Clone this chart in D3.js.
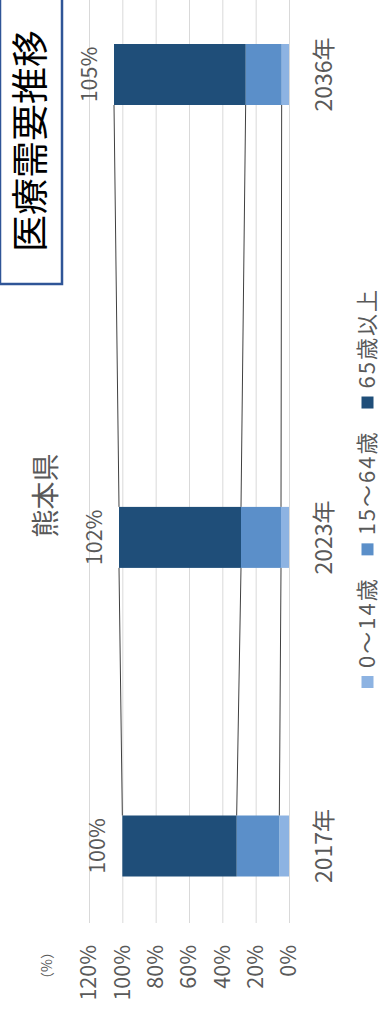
<!DOCTYPE html>
<html>
<head>
<meta charset="utf-8">
<script src="https://cdn.jsdelivr.net/npm/d3@7"></script>
<style>
  body { margin: 0; background: #fff; }
  svg text { font-family: "Noto Sans CJK JP", "Noto Sans", sans-serif; }
</style>
</head>
<body>
<div id="chart-area"></div>
<script>
// chart is drawn in normal orientation and then turned -90deg to fit the page
var W = 1011, H = 380;

var years = ["2017年", "2023年", "2036年"];
var slots = [0, 2, 5];   // categories are not evenly spaced in the picture
var age0_14 = [0.058, 0.048, 0.044];
var age15_64 = [0.256, 0.240, 0.216];
var age65 = [0.686, 0.732, 0.790];
var seriesNames = ["0〜14歳", "15〜64歳", "65歳以上"];
var seriesColours = ["#8db3e2", "#5b8fc9", "#1f4e79"];
var yTicks = [0, 0.2, 0.4, 0.6, 0.8, 1.0, 1.2];

var rows = years.map(function(yr, i) {
    return { year: yr, slot: slots[i], a: age0_14[i], b: age15_64[i], c: age65[i] };
});
var stacked = d3.stack().keys(["a", "b", "c"])(rows);

var svg = d3.select("#chart-area").append("svg")
    .attr("width", H)
    .attr("height", W);

var g = svg.append("g")
    .attr("transform", "translate(0," + W + ") rotate(-90)");

var x = d3.scaleLinear().domain([0, 5]).range([165, 936.5]);
var barW = 61;
var y = d3.scaleLinear().domain([0, 1.2]).range([289, 89]);

// gridlines
var grid = g.append("g")
    .attr("transform", "translate(88,0)")
    .call(d3.axisLeft(y).tickValues(yTicks).tickSize(-(W - 88)).tickFormat(""));
grid.select(".domain").remove();
grid.selectAll("line").attr("stroke", "#d9d9d9").attr("stroke-width", 1);

// value axis labels
var yAxis = g.append("g")
    .attr("transform", "translate(66,0)")
    .call(d3.axisLeft(y).tickValues(yTicks).tickSize(0).tickPadding(0).tickFormat(d3.format(".0%")));
yAxis.select(".domain").remove();
yAxis.selectAll("text")
    .attr("fill", "#595959")
    .style("font-size", "21.5px")
    .style("font-family", "'Noto Sans CJK JP', sans-serif");

g.append("text")
    .attr("x", 66)
    .attr("y", 47.5)
    .attr("dy", "0.35em")
    .attr("text-anchor", "end")
    .attr("fill", "#595959")
    .style("font-size", "14px")
    .text("（%）");

// bars
stacked.forEach(function(layer, k) {
    g.selectAll(".bar-" + k)
        .data(layer)
        .enter().append("rect")
        .attr("class", "bar-" + k)
        .attr("x", function(d) { return x(d.data.slot) - barW / 2; })
        .attr("y", function(d) { return y(d[1]); })
        .attr("width", barW)
        .attr("height", function(d) { return y(d[0]) - y(d[1]); })
        .attr("fill", seriesColours[k]);

    // series lines between bars
    for (var i = 0; i < layer.length - 1; i++) {
        g.append("line")
            .attr("x1", x(layer[i].data.slot) + barW / 2)
            .attr("y1", y(layer[i][1]))
            .attr("x2", x(layer[i + 1].data.slot) - barW / 2)
            .attr("y2", y(layer[i + 1][1]))
            .attr("stroke", "#404040")
            .attr("stroke-width", 1);
    }
});

// total labels
var topLayer = stacked[stacked.length - 1];
g.selectAll(".total")
    .data(topLayer)
    .enter().append("text")
    .attr("class", "total")
    .attr("x", function(d) { return x(d.data.slot); })
    .attr("y", function(d) { return y(d[1]) - 24.5; })
    .attr("dy", "0.35em")
    .attr("text-anchor", "middle")
    .attr("fill", "#595959")
    .style("font-size", "21.5px")
    .text(function(d) { return Math.round(d[1] * 100) + "%"; });

// category labels
g.selectAll(".cat")
    .data(rows)
    .enter().append("text")
    .attr("class", "cat")
    .attr("x", function(d) { return x(d.slot); })
    .attr("y", 324)
    .attr("dy", "0.35em")
    .attr("text-anchor", "middle")
    .attr("fill", "#595959")
    .style("font-size", "23px")
    .text(function(d) { return d.year; });

// chart title
g.append("text")
    .attr("x", 515.5)
    .attr("y", 46)
    .attr("dy", "0.35em")
    .attr("text-anchor", "middle")
    .attr("fill", "#595959")
    .style("font-size", "28px")
    .text("熊本県");

// legend
var legend = g.append("g").attr("transform", "translate(323,367.5)");
var lx = 0;
seriesNames.forEach(function(name, k) {
    legend.append("rect")
        .attr("x", lx)
        .attr("y", -6)
        .attr("width", 12)
        .attr("height", 12)
        .attr("fill", seriesColours[k]);
    var t = legend.append("text")
        .attr("x", lx + 20)
        .attr("y", 0)
        .attr("dy", "0.35em")
        .attr("fill", "#595959")
        .style("font-size", "22px")
        .style("letter-spacing", "2px")
        .text(name);
    lx += 20 + t.node().getComputedTextLength() + 22;
});

// boxed heading
g.append("rect")
    .attr("x", 727)
    .attr("y", 0)
    .attr("width", 286)
    .attr("height", 62)
    .attr("fill", "#fff")
    .attr("stroke", "#2f5597")
    .attr("stroke-width", 2.5);

g.append("text")
    .attr("x", 870)
    .attr("y", 31.5)
    .attr("dy", "0.35em")
    .attr("text-anchor", "middle")
    .attr("fill", "#000")
    .style("font-size", "37px")
    .text("医療需要推移");
</script>
</body>
</html>
